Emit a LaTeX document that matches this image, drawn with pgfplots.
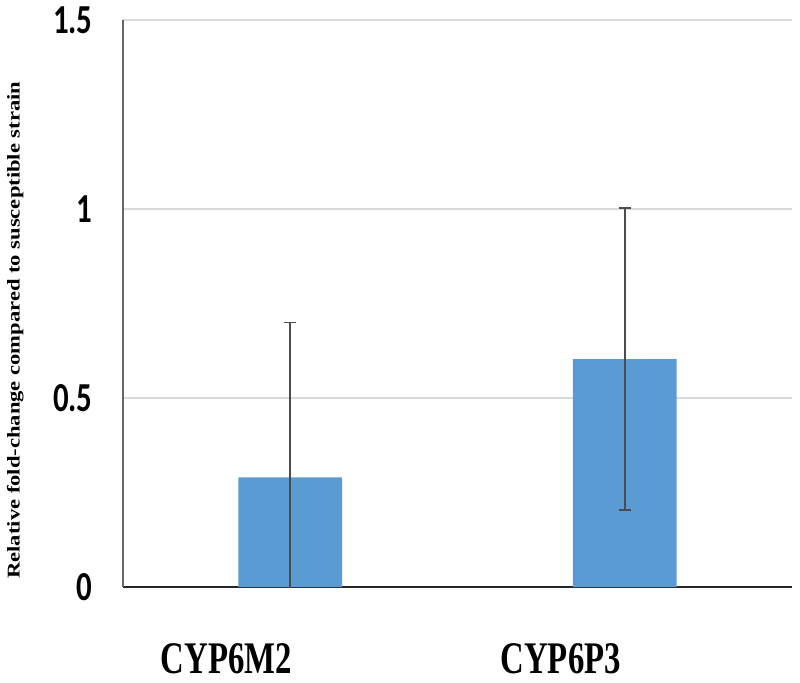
\documentclass[border=0pt]{standalone}
\usepackage{pgfplots}
\pgfplotsset{compat=1.18}
\usepackage{fontspec}
\setmainfont{Liberation Serif}
\newfontfamily\calibri{Carlito}
\usepackage{graphicx}
\definecolor{barblue}{HTML}{5B9BD5}
\begin{document}
\begin{tikzpicture}
\path[use as bounding box] (0,0) rectangle (400pt,341pt);
\begin{axis}[
  at={(61.5pt,47.5pt)}, anchor=south west,
  scale only axis, width=334.5pt, height=283.5pt,
  xmin=-0.5, xmax=1.5, ymin=0, ymax=1.5,
  axis x line*=bottom, axis y line*=left,
  axis line style={-},
  x axis line style={black!85, line width=1pt},
  y axis line style={black!60, line width=0.8pt},
  xtick={0,1},
  xticklabels={\scalebox{0.725}[1]{CYP6M2},\scalebox{0.725}[1]{CYP6P3}},
  ytick={0,0.5,1,1.5},
  yticklabels={\scalebox{0.75}[1]{0},\scalebox{0.75}[1]{0.5},\scalebox{0.75}[1]{1},\scalebox{0.75}[1]{1.5}},
  major tick length=0pt,
  ymajorgrids, grid style={black!15, line width=0.7pt},
  xticklabel style={anchor=north, inner sep=0pt, yshift=-28pt, xshift=-32pt, font=\bfseries\fontsize{22.6}{24}\selectfont},
  yticklabel style={anchor=east, inner sep=0pt, xshift=-15pt, font=\calibri\bfseries\fontsize{20.6}{22}\selectfont},
  ylabel={\resizebox{248.5pt}{\height}{\bfseries\fontsize{9}{9}\selectfont Relative fold-change compared to susceptible strain}},
  ylabel style={at={(axis description cs:-0.161,0.453)}, anchor=center, inner sep=0pt},
]
\addplot[ybar, bar width=0.31, fill=barblue, draw=none,
  error bars/.cd, y dir=both, y explicit,
  error bar style={black!70, line width=0.8pt},
  error mark options={rotate=90, mark size=3pt, black!70, line width=0.8pt}]
  coordinates {(0,0.29) +- (0,0.41) (1,0.603) +- (0,0.40)};
\end{axis}
\end{tikzpicture}
\end{document}
